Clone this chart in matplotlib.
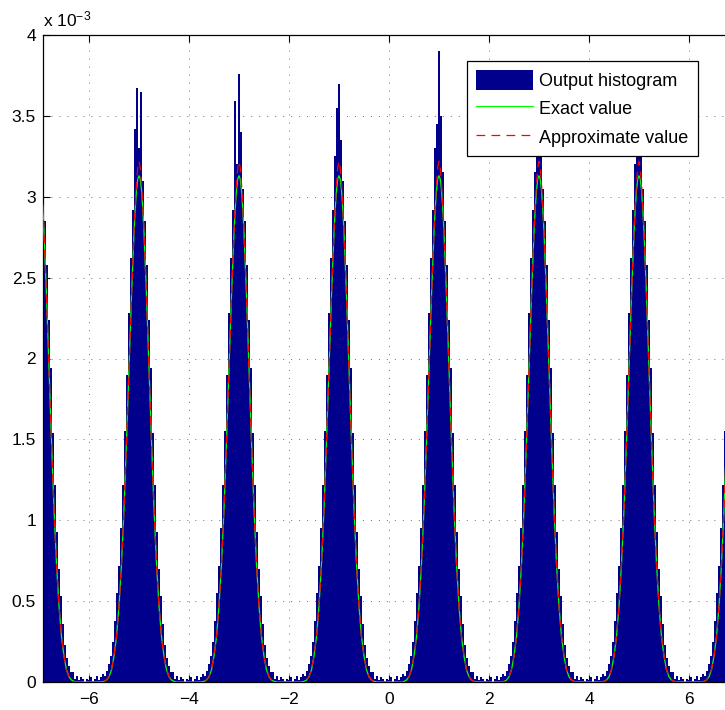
import numpy as np
import matplotlib
matplotlib.use("Agg")
import matplotlib.pyplot as plt
from matplotlib.patches import Patch
from matplotlib.lines import Line2D

plt.rcParams['font.family'] = ['Liberation Sans', 'DejaVu Sans']
plt.rcParams['mathtext.fontset'] = 'custom'
plt.rcParams['mathtext.rm'] = 'Liberation Sans'
plt.rcParams['mathtext.it'] = 'Liberation Sans'

# peak positions (8 levels) and histogram bin width
centers = [-7, -5, -3, -1, 1, 3, 5, 7]
bin_width = 0.04

# histogram bar heights (x 1e-3)
# left flank: offsets -1.00 .. -0.12 from the peak centre
hist_left = [0.01, 0.03, 0.00, 0.02, 0.04, 0.01, 0.03, 0.05, 0.04, 0.07, 0.11, 0.16,
             0.25, 0.38, 0.55, 0.72, 0.95, 1.22, 1.55, 1.90, 2.28, 2.62, 2.92]
# right flank: offsets 0.12 .. 0.96
hist_right = [2.85, 2.58, 2.24, 1.94, 1.54, 1.22, 0.93, 0.70, 0.53, 0.36, 0.23, 0.15,
              0.10, 0.06, 0.06, 0.02, 0.04, 0.01, 0.03, 0.02, 0.00, 0.02]
# noisy tops: offsets -0.08 .. 0.08, one list per peak
peak_cores = [
    [3.20, 3.45, 3.30, 3.05, 2.75],
    [3.42, 3.67, 3.30, 3.65, 3.10],
    [3.59, 3.20, 3.76, 3.40, 3.05],
    [3.25, 3.55, 3.70, 3.35, 3.10],
    [3.30, 3.45, 3.90, 3.50, 3.15],
    [3.15, 3.40, 3.55, 3.35, 3.05],
    [3.20, 3.50, 3.60, 3.30, 3.05],
    [3.20, 3.40, 3.60, 3.30, 3.00],
]

# density curves (x 1e-3) at offsets from each peak centre
curve_offsets = [0, 0.025, 0.05, 0.075, 0.1, 0.15, 0.2, 0.25, 0.3, 0.35, 0.4,
                 0.45, 0.5, 0.55, 0.6, 0.65, 0.7, 0.75]
exact_values = [3.13, 3.11, 3.04, 2.93, 2.78, 2.39, 1.94, 1.49, 1.07, 0.73, 0.47,
                0.28, 0.16, 0.075, 0.032, 0.012, 0.004, 0.0]
approx_values = [3.22, 3.18, 3.08, 2.95, 2.79, 2.38, 1.93, 1.48, 1.07, 0.73, 0.47,
                 0.28, 0.16, 0.078, 0.034, 0.013, 0.004, 0.0]

xticks = [-6, -4, -2, 0, 2, 4, 6]
yticks = [0, 0.5, 1, 1.5, 2, 2.5, 3, 3.5, 4]
ytick_labels = ['0', '0.5', '1', '1.5', '2', '2.5', '3', '3.5', '4']
legend_labels = ['Output histogram', 'Exact value', 'Approximate value']

# assemble bars and curves
k = np.arange(-25, 25)
bar_x, bar_h = [], []
cx, ce, ca = [], [], []
offs = np.array(curve_offsets)
for c, core in zip(centers, peak_cores):
    bar_x.extend(c + k * bin_width)
    bar_h.extend(hist_left + core + hist_right)
    cx.extend(c + np.concatenate([-offs[::-1], offs[1:]]))
    ce.extend(exact_values[::-1] + exact_values[1:])
    ca.extend(approx_values[::-1] + approx_values[1:])

W, H = 725, 710
fig = plt.figure(figsize=(W / 100, H / 100), dpi=100)
ax = fig.add_axes([43 / W, 28 / H, 692 / W, 647 / H])

navy = '#00008C'
# bars drawn a touch wider than the bin so no seams show between them
ax.bar(bar_x, bar_h, width=bin_width * 1.15, color=navy, edgecolor='none', zorder=2)
ax.plot(cx, ce, color='#00ff00', lw=0.9, zorder=3)
ax.plot(cx, ca, color='#ff0000', lw=0.9, ls=(0, (7, 5)), zorder=4)

ax.set_xlim(-6.92, 6.92)
ax.set_ylim(0, 4)
ax.set_xticks(xticks)
ax.set_yticks(yticks)
ax.set_yticklabels(ytick_labels)
ax.tick_params(direction='in', top=True, right=True, length=5, width=0.8,
               labelsize=12.5)
ax.tick_params(axis='x', pad=7)
ax.tick_params(axis='y', pad=5)
ax.grid(True, color='#444444', lw=0.5, ls=(0, (1.5, 10)), zorder=1)
ax.set_axisbelow(True)
for s in ax.spines.values():
    s.set_linewidth(0.9)

ax.text(0, 1.008, r'x 10$^{-3}$', transform=ax.transAxes, ha='left', va='bottom',
        fontsize=12.5)

handles = [Patch(facecolor=navy, edgecolor='none'),
           Line2D([], [], color='#00ff00', lw=0.9),
           Line2D([], [], color='#ff0000', lw=0.9, ls=(0, (7, 5)))]
leg = ax.legend(handles, legend_labels, loc='upper right',
                bbox_to_anchor=(697.7 / W, 1 - 60.7 / H), bbox_transform=fig.transFigure,
                borderaxespad=0, fontsize=13, handlelength=3.15, handleheight=1.35,
                handletextpad=0.38, labelspacing=0.46, borderpad=0.5,
                fancybox=False, framealpha=1, edgecolor='black')
leg.get_frame().set_linewidth(0.9)

fig.savefig('out.png', dpi=100)
